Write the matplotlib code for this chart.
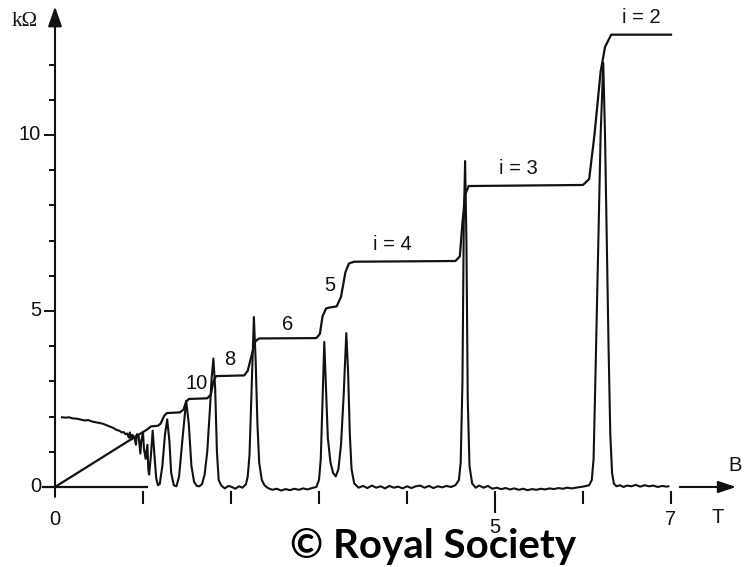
import matplotlib.pyplot as plt

plt.rcParams["font.family"] = ["Liberation Sans", "DejaVu Sans"]

# ---- data (B in tesla, R in kOhm) ----
hall_B = [0.00, 0.90, 1.00, 1.05, 1.09, 1.17, 1.20, 1.24, 1.27, 1.42, 1.46, 1.49,
          1.52, 1.73, 1.77, 1.80, 1.83, 2.15, 2.19, 2.24, 2.28, 2.32, 2.97, 3.01,
          3.04, 3.08, 3.12, 3.20, 3.25, 3.30, 3.34, 3.40, 4.55, 4.60, 4.63, 4.66,
          4.70, 6.00, 6.07, 6.13, 6.20, 6.25, 6.32, 7.00]
hall_R = [0.00, 1.41, 1.56, 1.64, 1.72, 1.74, 1.80, 2.02, 2.10, 2.12, 2.20, 2.42,
          2.50, 2.52, 2.62, 3.00, 3.15, 3.17, 3.30, 3.80, 4.15, 4.22, 4.23, 4.35,
          4.85, 5.07, 5.10, 5.13, 5.40, 6.10, 6.35, 6.40, 6.42, 6.55, 7.50, 8.30,
          8.55, 8.58, 8.75, 10.00, 11.80, 12.50, 12.85, 12.85]

rxx_B = [0.08, 0.12, 0.16, 0.20, 0.25, 0.30, 0.34, 0.38, 0.42, 0.46, 0.50, 0.54,
         0.58, 0.62, 0.66, 0.70, 0.73, 0.76, 0.78, 0.80, 0.82, 0.84, 0.85, 0.87,
         0.88, 0.90, 0.92, 0.93, 0.95, 0.97, 0.98, 1.00, 1.01, 1.03, 1.05, 1.06,
         1.07, 1.09, 1.11, 1.13, 1.15, 1.17, 1.19, 1.22, 1.25, 1.275, 1.30, 1.32,
         1.35, 1.38, 1.41, 1.45, 1.49, 1.52, 1.55, 1.58, 1.61, 1.64, 1.67, 1.70,
         1.73, 1.76, 1.78, 1.80, 1.82, 1.84, 1.86, 1.89, 1.93, 1.97, 2.01, 2.05,
         2.09, 2.13, 2.17, 2.19, 2.21, 2.23, 2.26, 2.28, 2.30, 2.32, 2.35, 2.38,
         2.42, 2.47, 2.52, 2.57, 2.62, 2.67, 2.72, 2.77, 2.82, 2.87, 2.92, 2.97,
         3.00, 3.02, 3.04, 3.06, 3.08, 3.10, 3.13, 3.16, 3.19, 3.22, 3.25, 3.28,
         3.31, 3.33, 3.35, 3.37, 3.40, 3.45, 3.50, 3.55, 3.60, 3.65, 3.70, 3.75,
         3.80, 3.85, 3.90, 3.95, 4.00, 4.05, 4.10, 4.15, 4.20, 4.25, 4.30, 4.35,
         4.40, 4.45, 4.50, 4.55, 4.59, 4.61, 4.63, 4.645, 4.66, 4.675, 4.69, 4.71,
         4.74, 4.78, 4.82, 4.87, 4.92, 4.97, 5.02, 5.07, 5.12, 5.17, 5.22, 5.27,
         5.32, 5.37, 5.42, 5.47, 5.52, 5.57, 5.62, 5.67, 5.72, 5.77, 5.82, 5.87,
         5.92, 5.97, 6.02, 6.07, 6.10, 6.12, 6.14, 6.17, 6.20, 6.23, 6.25, 6.27,
         6.29, 6.31, 6.33, 6.35, 6.38, 6.42, 6.46, 6.50, 6.55, 6.60, 6.65, 6.70,
         6.75, 6.80, 6.85, 6.90, 6.95, 6.97]
rxx_R = [1.98, 1.97, 1.98, 1.95, 1.94, 1.91, 1.89, 1.90, 1.86, 1.84, 1.82, 1.80,
         1.76, 1.72, 1.68, 1.62, 1.60, 1.55, 1.56, 1.50, 1.52, 1.40, 1.55, 1.35,
         1.48, 1.42, 1.20, 1.50, 1.45, 0.95, 1.30, 1.55, 1.10, 0.80, 1.20, 0.50,
         0.35, 0.90, 1.60, 0.90, 0.25, 0.05, 0.08, 0.60, 1.50, 1.92, 1.30, 0.40,
         0.05, 0.02, 0.30, 1.40, 2.45, 1.80, 0.60, 0.15, 0.03, 0.02, 0.08, 0.35,
         1.00, 2.20, 3.10, 3.65, 2.80, 1.00, 0.20, 0.04, -0.04, 0.03, 0.00, -0.05,
         0.02, -0.02, 0.08, 0.30, 0.90, 2.50, 4.83, 3.60, 1.80, 0.70, 0.20, 0.05,
         -0.03, -0.08, -0.05, -0.10, -0.06, -0.09, -0.05, -0.08, -0.04, -0.07, -0.03, 0.00,
         0.20, 0.80, 2.50, 4.12, 2.80, 1.40, 0.70, 0.40, 0.30, 0.50, 1.20, 2.60,
         4.37, 3.30, 1.50, 0.50, 0.10, -0.02, 0.03, -0.03, 0.04, -0.02, 0.02, -0.04,
         0.03, -0.02, 0.01, -0.04, 0.02, -0.03, 0.02, 0.04, -0.02, 0.03, -0.03, 0.02,
         -0.01, 0.03, 0.00, 0.05, 0.20, 0.70, 3.00, 7.50, 9.26, 7.00, 2.50, 0.60,
         0.10, -0.02, 0.04, -0.02, 0.03, -0.05, -0.02, -0.06, -0.03, -0.07, -0.04, -0.08,
         -0.05, -0.09, -0.06, -0.08, -0.05, -0.07, -0.04, -0.06, -0.03, -0.05, -0.02, -0.04,
         -0.02, 0.00, 0.02, 0.05, 0.20, 0.80, 3.00, 6.50, 10.00, 12.05, 10.00, 7.00,
         4.00, 1.50, 0.40, 0.10, 0.02, 0.05, 0.00, 0.04, 0.02, 0.06, 0.01, 0.05,
         0.02, 0.04, 0.00, 0.03, 0.01, 0.02]

plateau_labels = ["10", "8", "6", "5", "i = 4", "i = 3", "i = 2"]
label_B = [1.61, 1.99, 2.64, 3.125, 3.83, 5.26, 6.66]
label_R = [2.95, 3.61, 4.63, 5.71, 6.90, 9.06, 13.35]

y_major = [0, 5, 10]
y_minor = [1, 2, 3, 4, 6, 7, 8, 9, 11, 12]
x_ticks = [1, 2, 3, 4, 5, 6, 7]
x_ticklabels = {0: "0", 5: "5", 7: "7"}

INK = "#111111"

fig = plt.figure(figsize=(7.46, 5.67), dpi=100)
ax = fig.add_axes([0, 0, 1, 1])
ax.set_xlim(-0.625, 7.852)
ax.set_ylim(-2.273, 13.835)
ax.axis("off")

# curves
ax.plot(hall_B, hall_R, color=INK, lw=1.6, solid_joinstyle="round")
ax.plot(rxx_B, rxx_R, color=INK, lw=1.5, solid_joinstyle="round")

# y axis with arrow
ax.annotate("", xy=(0, 13.65), xytext=(0, -0.28),
            arrowprops=dict(arrowstyle="-|>,head_length=1.0,head_width=0.35",
                            mutation_scale=12, lw=1.5, color=INK,
                            shrinkA=0, shrinkB=0))
for v in y_major:
    ax.plot([-0.114, 0], [v, v], color=INK, lw=1.4)
    ax.text(-0.16, v, str(v), ha="right", va="center", fontsize=14.5, color=INK)
for v in y_minor:
    ax.plot([-0.057, 0], [v, v], color=INK, lw=1.4)
ax.text(-0.34, 13.21, "kΩ", ha="center", va="center", fontsize=15, color=INK,
        family=["Liberation Serif", "DejaVu Serif"])

# short base line from origin and B arrow
ax.plot([-0.14, 1.05], [0, 0], color=INK, lw=1.6)
ax.annotate("", xy=(7.74, 0), xytext=(7.10, 0),
            arrowprops=dict(arrowstyle="-|>,head_length=0.9,head_width=0.3",
                            mutation_scale=12, lw=1.5, color=INK,
                            shrinkA=0, shrinkB=0))
ax.text(7.73, 0.62, "B", ha="center", va="center", fontsize=14.5, color=INK)
ax.text(7.53, -0.88, "T", ha="center", va="center", fontsize=14.5, color=INK)

# x ticks hanging below the trace
for b in x_ticks:
    low = -0.71 if b == 5 else -0.45
    ax.plot([b, b], [-0.14, low], color=INK, lw=1.5)
for b, s in x_ticklabels.items():
    yy = -1.14 if b == 5 else -0.92
    ax.text(b, yy, s, ha="center", va="center", fontsize=14.5, color=INK)

# plateau labels
for s, b, r in zip(plateau_labels, label_B, label_R):
    ax.text(b, r, s, ha="center", va="center", fontsize=14.5, color=INK)

# watermark
ax.text(4.30, -1.70, "© Royal Society", ha="center", va="center",
        fontsize=29, fontweight="bold", family=["Lato", "DejaVu Sans"],
        color="black")

fig.savefig("out.png", dpi=100)
